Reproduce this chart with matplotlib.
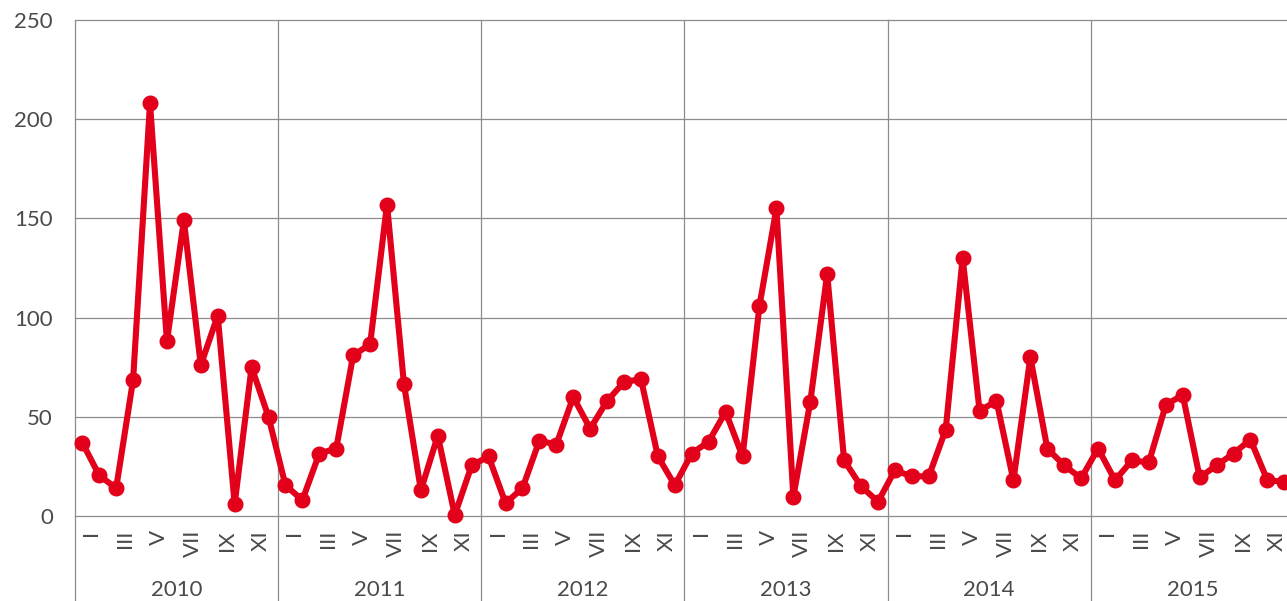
import matplotlib
matplotlib.use("Agg")
import matplotlib.pyplot as plt
import matplotlib.transforms as mtransforms

years = ["2010", "2011", "2012", "2013", "2014", "2015"]
month_labels = ["I", "III", "V", "VII", "IX", "XI"]
y_ticks = [0, 50, 100, 150, 200, 250]

values_2010 = [37, 20.5, 14, 68.5, 208, 88, 149, 76, 101, 6, 75, 50]
values_2011 = [15.5, 8, 31.5, 34, 81, 86.5, 157, 66.5, 13, 40.5, 0.5, 25.5]
values_2012 = [30, 6.5, 14, 38, 36, 60, 44, 58, 67.5, 69, 30, 15.5]
values_2013 = [31.5, 37.5, 52.5, 30, 106, 155, 9.7, 57.5, 122, 28, 15, 7.2]
values_2014 = [23, 20, 20, 43.5, 130, 53, 58, 18, 80, 34, 25.5, 19]
values_2015 = [34, 18, 28, 27, 56, 61, 19.5, 25.5, 31.5, 38.5, 18, 17.3]

values = values_2010 + values_2011 + values_2012 + values_2013 + values_2014 + values_2015

plt.rcParams['font.family'] = ['Lato', 'DejaVu Sans']

W, H = 1287, 601
fig = plt.figure(figsize=(W / 100, H / 100), dpi=100)
month_px = 16.93
ax = fig.add_axes([75 / W, 85 / H, 72 * month_px / W, 496 / H])

off = 0.43
ax.set_xlim(-off, 72 - off)
ax.set_ylim(0, 250)

grid_col = "#8c8c8c"
text_col = "#4a4a4a"
red = "#E2001A"

for s in ax.spines.values():
    s.set_visible(False)

for yt in y_ticks:
    ax.axhline(yt, color=grid_col, lw=0.9, zorder=1, clip_on=False)

trans = mtransforms.blended_transform_factory(ax.transData, ax.transAxes)
for k in range(len(years) + 1):
    b = 12 * k - off
    ax.plot([b, b], [-0.25, 1], transform=trans, color=grid_col, lw=0.9,
            clip_on=False, zorder=1)

x = list(range(len(values)))
ax.plot(x, values, color=red, lw=4.4, marker='o', markersize=10.5,
        solid_joinstyle='round', solid_capstyle='round', zorder=3, clip_on=False)

ax.set_yticks(y_ticks)
ax.set_yticklabels([str(v) for v in y_ticks], fontsize=16, color=text_col)
ax.tick_params(axis='y', length=0, pad=16)
ax.set_xticks([])

lab_trans = mtransforms.offset_copy(trans, fig=fig, x=9, y=-14, units='dots')
for yi, yr in enumerate(years):
    for mi, ml in enumerate(month_labels):
        xi = yi * 12 + mi * 2
        ax.text(xi, 0, ml, transform=lab_trans, rotation=90, ha='center',
                va='top', fontsize=16, color=text_col)
    ax.text(yi * 12 + 6 - off, -0.149, yr, transform=trans, ha='center',
            va='center', fontsize=16, color=text_col)

fig.savefig("out.png", dpi=100)
